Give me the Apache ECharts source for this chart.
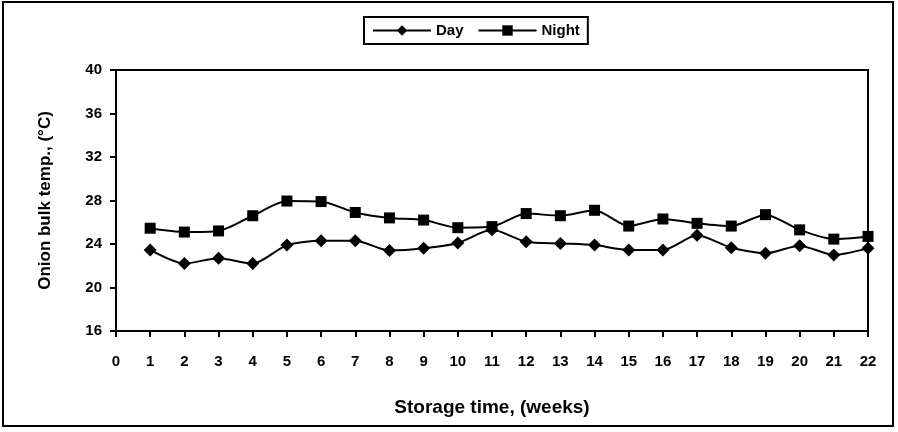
<!DOCTYPE html>
<html>
<head>
<meta charset="utf-8">
<script src="https://cdn.jsdelivr.net/npm/echarts@6/dist/echarts.min.js"></script>
<style>
html, body { margin: 0; padding: 0; background: #fff; }
#chart { width: 898px; height: 432px; }
</style>
</head>
<body>
<div id="chart"></div>
<script>
var weeks = [1,2,3,4,5,6,7,8,9,10,11,12,13,14,15,16,17,18,19,20,21,22];
var dayTemp = [23.45,22.2,22.7,22.2,23.9,24.3,24.3,23.4,23.6,24.1,25.3,24.2,24.05,23.9,23.45,23.45,24.8,23.65,23.15,23.85,23.0,23.6];
var nightTemp = [25.45,25.1,25.2,26.6,27.95,27.9,26.9,26.4,26.2,25.5,25.6,26.8,26.6,27.1,25.65,26.3,25.9,25.65,26.7,25.3,24.45,24.7];

function pairs(vals) {
    return weeks.map(function (w, i) { return [w, vals[i]]; });
}

var chart = echarts.init(document.getElementById('chart'));
chart.setOption({
    animation: false,
    textStyle: { fontFamily: 'Liberation Sans', color: '#000' },
    graphic: [{
        type: 'rect',
        shape: { x: 3, y: 2, width: 890, height: 424 },
        style: { fill: 'none', stroke: '#000', lineWidth: 2 }
    }],
    legend: {
        top: 17,
        left: 364,
        borderColor: '#000',
        borderWidth: 2,
        padding: [6, 8],
        itemGap: 14,
        itemWidth: 58,
        itemHeight: 13,
        textStyle: { fontSize: 15, fontWeight: 'bold', color: '#000' },
        data: ['Day', 'Night']
    },
    grid: {
        left: 116, right: 30, top: 70, bottom: 101,
        show: true, borderColor: '#000', borderWidth: 2
    },
    xAxis: {
        type: 'value',
        min: 0, max: 22, interval: 1,
        name: 'Storage time, (weeks)',
        nameLocation: 'middle',
        nameGap: 67,
        nameTextStyle: { fontSize: 19, fontWeight: 'bold', color: '#000' },
        axisLine: { lineStyle: { color: '#000', width: 2 } },
        axisTick: { show: true, length: 6, lineStyle: { color: '#000', width: 2 } },
        axisLabel: { fontSize: 15, fontWeight: 'bold', color: '#000', margin: 23 },
        splitLine: { show: false }
    },
    yAxis: {
        type: 'value',
        min: 16, max: 40, interval: 4,
        name: 'Onion bulk temp., (\u00b0C)',
        nameLocation: 'middle',
        nameGap: 62,
        nameTextStyle: { fontSize: 17, fontWeight: 'bold', color: '#000' },
        axisLine: { show: true, lineStyle: { color: '#000', width: 2 } },
        axisTick: { show: true, length: 6, lineStyle: { color: '#000', width: 2 } },
        axisLabel: { fontSize: 15, fontWeight: 'bold', color: '#000', margin: 14 },
        splitLine: { show: false }
    },
    series: [
        {
            name: 'Day',
            type: 'line',
            smooth: 0.25,
            data: pairs(dayTemp),
            symbol: 'diamond',
            symbolSize: 13,
            itemStyle: { color: '#000' },
            lineStyle: { color: '#000', width: 2 }
        },
        {
            name: 'Night',
            type: 'line',
            smooth: 0.25,
            data: pairs(nightTemp),
            symbol: 'rect',
            symbolSize: 11,
            itemStyle: { color: '#000' },
            lineStyle: { color: '#000', width: 2 }
        }
    ]
});
</script>
</body>
</html>
